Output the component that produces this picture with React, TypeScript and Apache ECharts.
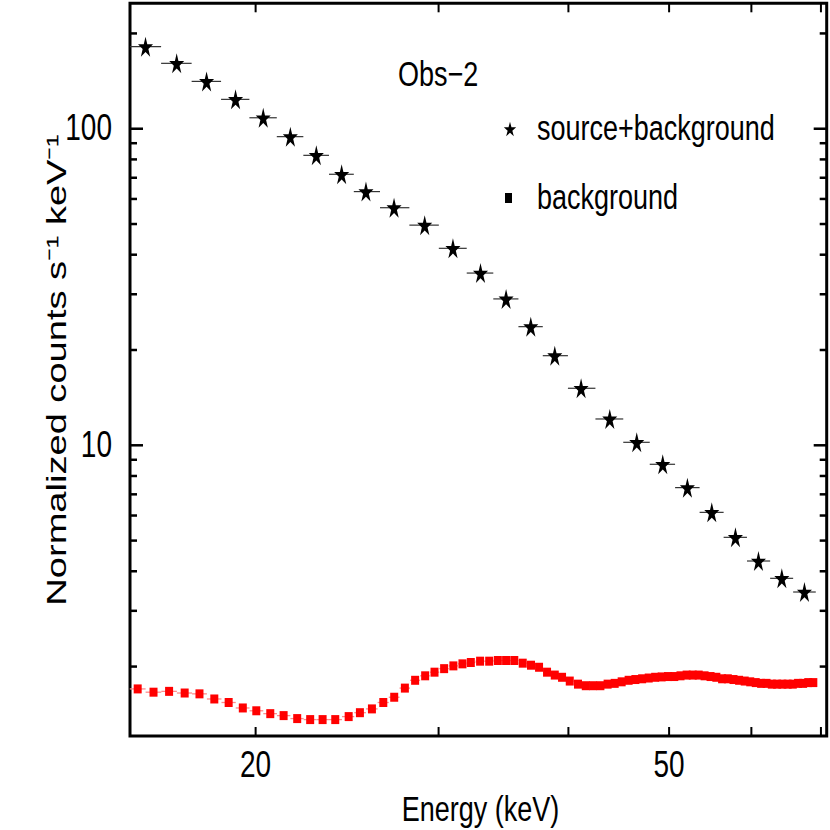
import React, { useEffect, useRef } from 'react';
import * as echarts from 'echarts';

// ---- axis ranges ----
const X_MIN = 15.14;
const X_MAX = 70.9;
const Y_MIN = 1.207;
const Y_MAX = 249;

// ---- tick values ----
const xTicks = [20, 30, 40, 50, 60, 70];
const xTickLabels = [20, 50];
const yMajorTicks = [10, 100];
const yMinorTicks = [2, 3, 4, 5, 6, 7, 8, 9, 20, 30, 40, 50, 60, 70, 80, 90, 200];
const yTickLabels = [10, 100];

// ---- source + background (stars) ----
const starEnergy = [15.67, 16.79, 17.94, 19.13, 20.34, 21.6, 22.88, 24.2, 25.54, 27.18, 29.09, 30.97, 32.92, 34.84, 36.8, 38.81, 41.14, 43.84, 46.54, 49.3, 52.07, 54.96, 57.92, 60.95, 64.19, 67.49];
const starCounts = [181.6, 160.9, 141.1, 123.8, 108.3, 94.4, 82.4, 71.8, 63.3, 56.3, 49.6, 41.9, 35.0, 29.0, 23.7, 19.19, 15.14, 12.11, 10.22, 8.71, 7.35, 6.14, 5.12, 4.31, 3.8, 3.44];

// ---- background (red squares) ----
const bgEnergy = [15.4, 15.95, 16.51, 17.09, 17.66, 18.25, 18.84, 19.44, 20.03, 20.66, 21.28, 21.93, 22.57, 23.2, 23.86, 24.58, 25.2, 25.88, 26.54, 27.19, 27.84, 28.48, 29.12, 29.73, 30.37, 31.0, 31.63, 32.22, 32.89, 33.56, 34.21, 34.84, 35.48, 36.15, 36.82, 37.48, 38.15, 38.81, 39.44, 40.12, 40.86, 41.57, 42.25, 42.94, 43.63, 44.32, 45.01, 45.71, 46.4, 47.1, 47.79, 48.48, 49.18, 49.88, 50.58, 51.28, 51.98, 52.69, 53.39, 54.09, 54.81, 55.52, 56.23, 56.95, 57.67, 58.39, 59.12, 59.85, 60.58, 61.31, 62.05, 62.78, 63.52, 64.27, 65.02, 65.77, 66.54, 67.29, 68.06, 68.83];
const bgCounts = [1.7, 1.66, 1.67, 1.65, 1.64, 1.58, 1.54, 1.48, 1.45, 1.42, 1.4, 1.37, 1.36, 1.36, 1.36, 1.39, 1.43, 1.47, 1.54, 1.6, 1.71, 1.81, 1.87, 1.92, 1.97, 2.01, 2.04, 2.06, 2.08, 2.08, 2.09, 2.09, 2.09, 2.05, 2.02, 1.99, 1.92, 1.88, 1.85, 1.8, 1.76, 1.74, 1.74, 1.74, 1.76, 1.77, 1.79, 1.81, 1.82, 1.83, 1.84, 1.85, 1.855, 1.86, 1.86, 1.87, 1.88, 1.88, 1.88, 1.87, 1.86, 1.85, 1.83, 1.83, 1.82, 1.81, 1.8, 1.79, 1.78, 1.77, 1.77, 1.76, 1.76, 1.76, 1.76, 1.76, 1.77, 1.77, 1.78, 1.78];

const FONT = "'Liberation Sans', Arial, Helvetica, sans-serif";
const STAR_PATH =
  'path://M0,-100L22.45,-30.9L95.11,-30.9L36.33,11.8L58.78,80.9L0,38.2L-58.78,80.9L-36.33,11.8L-95.11,-30.9L-22.45,-30.9Z';
const STAR_UNIT: [number, number][] = [
  [0, -1], [0.2245, -0.309], [0.9511, -0.309], [0.3633, 0.118], [0.5878, 0.809],
  [0, 0.382], [-0.5878, 0.809], [-0.3633, 0.118], [-0.9511, -0.309], [-0.2245, -0.309],
];

// energy bin edges: geometric midpoints between neighbouring bins
function binEdges(c: number[]) {
  const lo: number[] = [];
  const hi: number[] = [];
  for (let i = 0; i < c.length; i++) {
    lo.push(i > 0 ? Math.sqrt(c[i - 1] * c[i]) : c[0] / Math.sqrt(c[1] / c[0]));
    hi.push(i < c.length - 1 ? Math.sqrt(c[i] * c[i + 1]) : c[i] * Math.sqrt(c[i] / c[i - 1]));
  }
  return { lo, hi };
}

function errorBars(energy: number[], counts: number[], color: string, width: number, z: number) {
  const { lo, hi } = binEdges(energy);
  return {
    type: 'custom',
    coordinateSystem: 'cartesian2d',
    silent: true,
    z,
    data: energy.map((e, i) => [e, counts[i], lo[i], hi[i]]),
    encode: { x: 0, y: 1 },
    renderItem: (_p: any, api: any) => {
      const y = api.value(1);
      const a = api.coord([api.value(2), y]);
      const b = api.coord([api.value(3), y]);
      return {
        type: 'line',
        shape: { x1: a[0], y1: a[1], x2: b[0], y2: b[1] },
        style: { stroke: color, lineWidth: width },
      };
    },
  };
}

const TICK_STYLE = { stroke: '#000', lineWidth: 2.5 };

function buildOption() {
  const legendStar = STAR_UNIT.map(([a, b]) => [510 + a * 6.5, 129 + (b + 0.0955) * 8]);
  return {
    animation: false,
    grid: {
      left: 130, right: 3.3, top: 3.3, bottom: 94,
      show: true, borderColor: '#000', borderWidth: 3, backgroundColor: 'transparent',
    },
    xAxis: {
      type: 'log', logBase: 10, min: X_MIN, max: X_MAX,
      axisLine: { show: false }, axisTick: { show: false }, axisLabel: { show: false },
      splitLine: { show: false },
    },
    yAxis: {
      type: 'log', logBase: 10, min: Y_MIN, max: Y_MAX,
      axisLine: { show: false }, axisTick: { show: false }, axisLabel: { show: false },
      splitLine: { show: false },
    },
    series: [
      // y ticks (left & right, inward)
      {
        type: 'custom', coordinateSystem: 'cartesian2d', silent: true, z: 10,
        data: [...yMajorTicks.map((v) => [X_MIN, v, 1]), ...yMinorTicks.map((v) => [X_MIN, v, 0])],
        renderItem: (_p: any, api: any) => {
          const v = api.value(1);
          const len = api.value(2) ? 13 : 7;
          const l = api.coord([X_MIN, v]);
          const r = api.coord([X_MAX, v]);
          return {
            type: 'group',
            children: [
              { type: 'line', shape: { x1: l[0], y1: l[1], x2: l[0] + len, y2: l[1] }, style: TICK_STYLE },
              { type: 'line', shape: { x1: r[0], y1: r[1], x2: r[0] - len, y2: r[1] }, style: TICK_STYLE },
            ],
          };
        },
      },
      // x ticks (bottom & top, inward)
      {
        type: 'custom', coordinateSystem: 'cartesian2d', silent: true, z: 10,
        data: xTicks.map((v) => [v, Y_MIN]),
        renderItem: (_p: any, api: any) => {
          const v = api.value(0);
          const b = api.coord([v, Y_MIN]);
          const t = api.coord([v, Y_MAX]);
          return {
            type: 'group',
            children: [
              { type: 'line', shape: { x1: b[0], y1: b[1], x2: b[0], y2: b[1] - 9 }, style: { stroke: '#000', lineWidth: 2 } },
              { type: 'line', shape: { x1: t[0], y1: t[1], x2: t[0], y2: t[1] + 9 }, style: { stroke: '#000', lineWidth: 2 } },
            ],
          };
        },
      },
      // y tick labels
      {
        type: 'custom', coordinateSystem: 'cartesian2d', silent: true, z: 10,
        data: yTickLabels.map((v) => [X_MIN, v]),
        renderItem: (_p: any, api: any) => {
          const v = api.value(1);
          const p = api.coord([X_MIN, v]);
          return {
            type: 'text', x: p[0] - 18, y: p[1] - 1, scaleY: 1.3,
            style: { text: String(v), fontSize: 28, fontFamily: FONT, fill: '#000', align: 'right', verticalAlign: 'middle', textAlign: 'right', textVerticalAlign: 'middle' },
          };
        },
      },
      // x tick labels
      {
        type: 'custom', coordinateSystem: 'cartesian2d', silent: true, z: 10,
        data: xTickLabels.map((v) => [v, Y_MIN]),
        renderItem: (_p: any, api: any) => {
          const v = api.value(0);
          const p = api.coord([v, Y_MIN]);
          return {
            type: 'text', x: p[0], y: p[1] + 29, scaleY: 1.3,
            style: { text: String(v), fontSize: 28, fontFamily: FONT, fill: '#000', align: 'center', verticalAlign: 'middle', textAlign: 'center', textVerticalAlign: 'middle' },
          };
        },
      },
      errorBars(bgEnergy, bgCounts, '#ff8a8a', 1.3, 2),
      {
        type: 'scatter', name: 'background', z: 3,
        data: bgEnergy.map((e, i) => [e, bgCounts[i]]),
        symbol: 'rect', symbolSize: [8, 9],
        itemStyle: { color: '#ff0000', opacity: 1 },
      },
      errorBars(starEnergy, starCounts, '#333', 1.2, 4),
      {
        type: 'scatter', name: 'source+background', z: 5,
        data: starEnergy.map((e, i) => [e, starCounts[i]]),
        symbol: STAR_PATH, symbolSize: [15, 20],
        itemStyle: { color: '#000', opacity: 1 },
      },
    ],
    graphic: [
      {
        type: 'text', x: 56, y: 370, rotation: Math.PI / 2, scaleX: 1.36,
        style: { text: 'Normalized counts s⁻¹ keV⁻¹', fontSize: 28, fontFamily: FONT, fill: '#000', align: 'center', verticalAlign: 'middle', textAlign: 'center', textVerticalAlign: 'middle' },
      },
      {
        type: 'text', x: 480.5, y: 809, scaleY: 1.3,
        style: { text: 'Energy (keV)', fontSize: 27, fontFamily: FONT, fill: '#000', align: 'center', verticalAlign: 'middle', textAlign: 'center', textVerticalAlign: 'middle' },
      },
      {
        type: 'text', x: 398, y: 74, scaleY: 1.3,
        style: { text: 'Obs−2', fontSize: 27, fontFamily: FONT, fill: '#000', align: 'left', verticalAlign: 'middle', textAlign: 'left', textVerticalAlign: 'middle' },
      },
      { type: 'polygon', shape: { points: legendStar }, style: { fill: '#000' } },
      {
        type: 'text', x: 537, y: 128, scaleY: 1.3,
        style: { text: 'source+background', fontSize: 27, fontFamily: FONT, fill: '#000', align: 'left', verticalAlign: 'middle', textAlign: 'left', textVerticalAlign: 'middle' },
      },
      { type: 'rect', shape: { x: 505, y: 193, width: 7, height: 10 }, style: { fill: '#000' } },
      {
        type: 'text', x: 537, y: 197, scaleY: 1.3,
        style: { text: 'background', fontSize: 27, fontFamily: FONT, fill: '#000', align: 'left', verticalAlign: 'middle', textAlign: 'left', textVerticalAlign: 'middle' },
      },
    ],
  };
}

export default function App() {
  const ref = useRef<HTMLDivElement>(null);
  useEffect(() => {
    if (!ref.current) return;
    const chart = echarts.init(ref.current, null, { renderer: 'svg' });
    chart.setOption(buildOption() as any);
    return () => chart.dispose();
  }, []);
  return (
    <div
      ref={ref}
      style={{ position: 'absolute', left: 0, top: 0, width: 830, height: 830, background: '#fff' }}
    />
  );
}
